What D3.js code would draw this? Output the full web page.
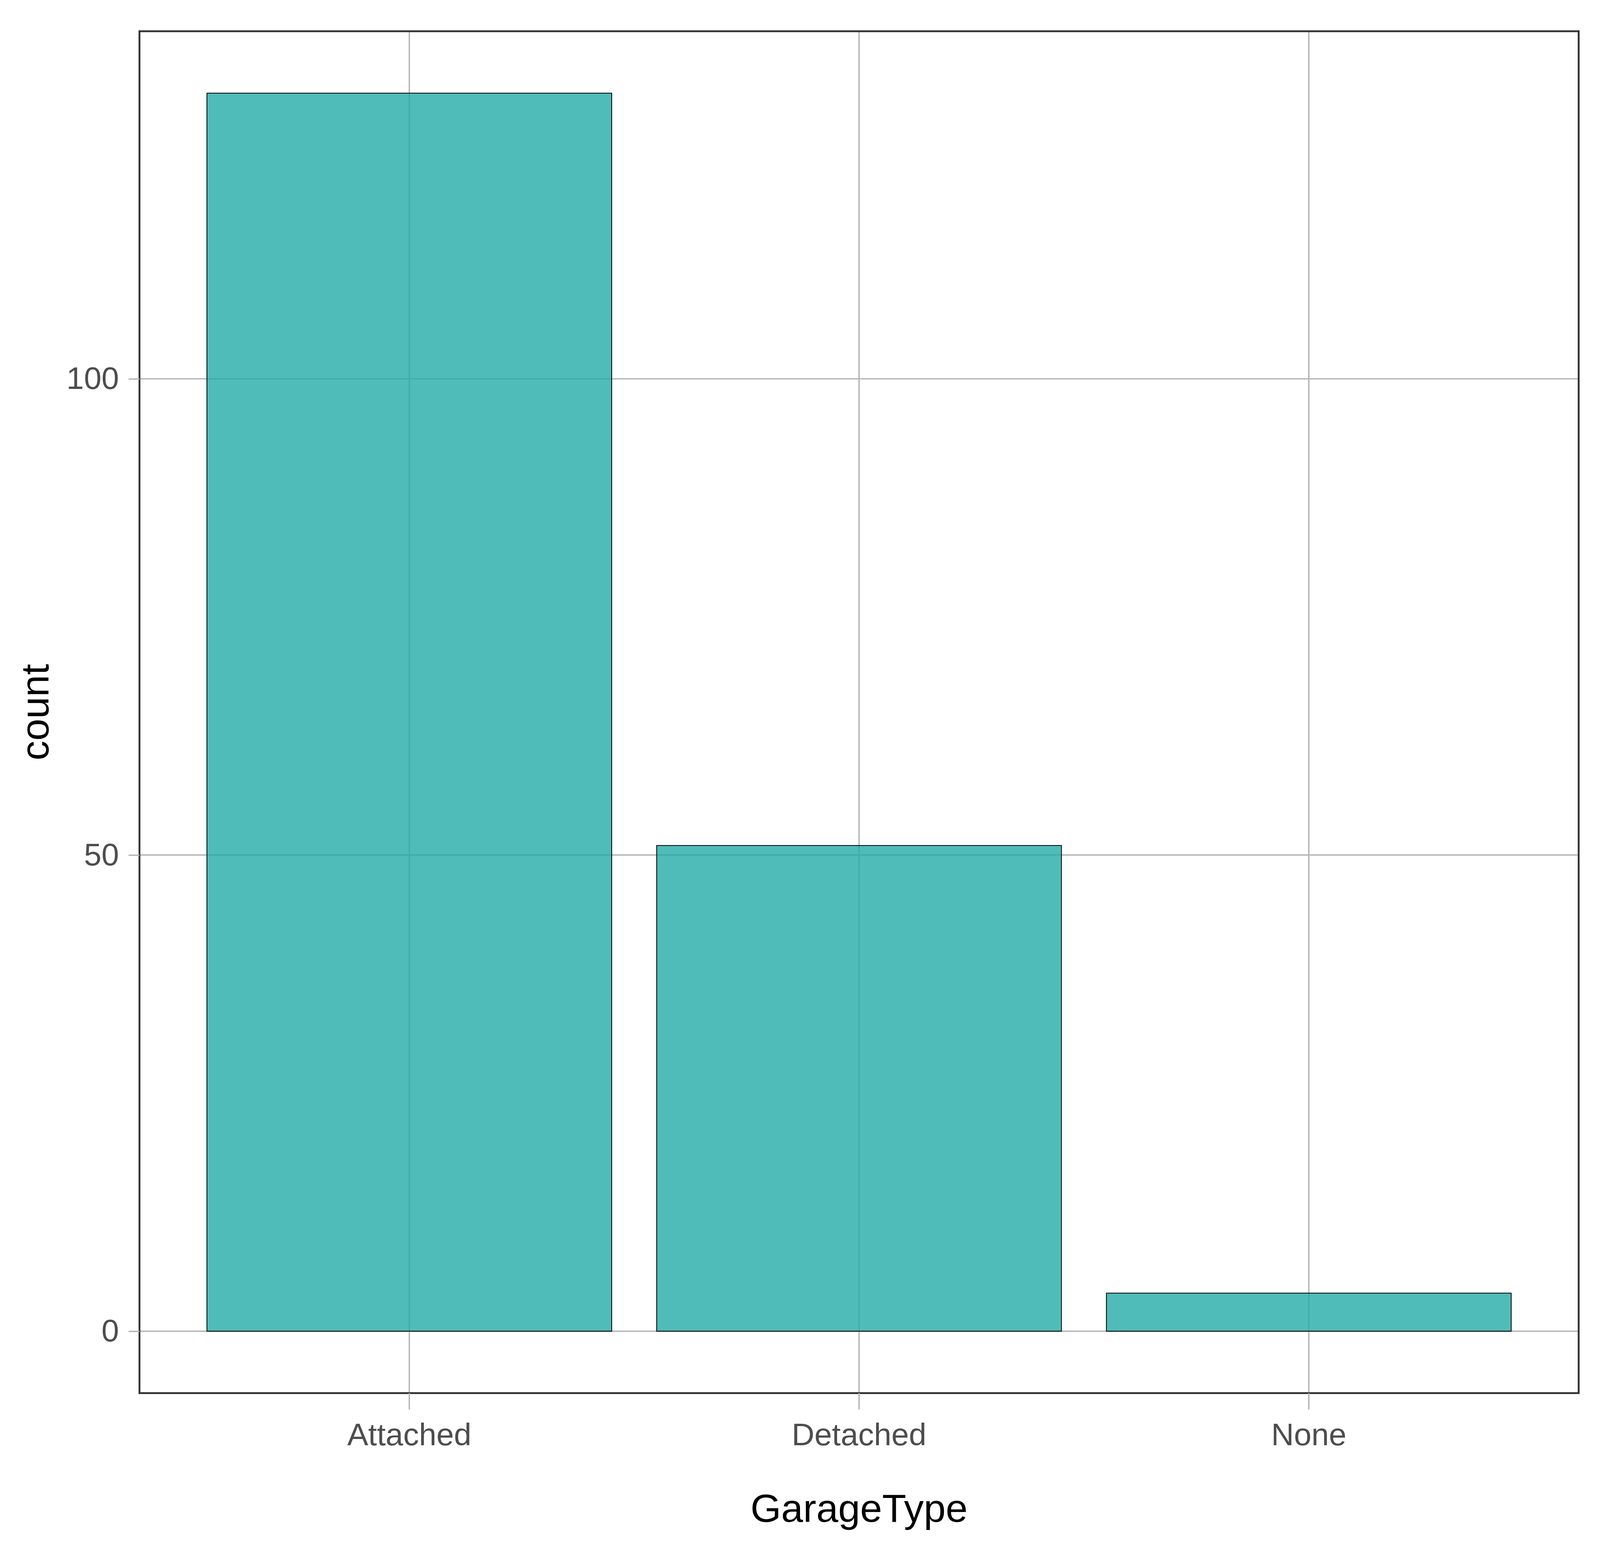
<!DOCTYPE html>
<html>
<head>
<meta charset="utf-8">
<script src="https://cdn.jsdelivr.net/npm/d3@7"></script>
<style>
    html, body { margin: 0; padding: 0; width: 100%; height: 100%; overflow: hidden; background: #ffffff; }
    svg { display: block; }
    text { font-family: 'Liberation Sans', Arial, sans-serif; }
</style>
</head>
<body>
<div id="visualization-container"></div>
<script>
// Chart data
const garageTypes = ['Attached', 'Detached', 'None'];
const counts = [130, 51, 4];
const yTicks = [0, 50, 100];
const xTitle = 'GarageType';
const yTitle = 'count';

// Function to draw the bar chart, laid out on a 6000x4000 design and
// scaled to whatever window it gets
function drawChart() {
    const width = window.innerWidth || 6000;
    const height = window.innerHeight || 4000;
    const sx = width / 6000;
    const sy = height / 4000;
    const s = Math.min(sx, sy);

    const svg = d3.select('#visualization-container')
        .append('svg')
        .attr('width', width)
        .attr('height', height);

    svg.append('rect')
        .attr('width', width)
        .attr('height', height)
        .attr('fill', '#ffffff');

    // Panel box
    const panel = { left: 523 * sx, right: 5920 * sx, top: 80 * sy, bottom: 3567.5 * sy };

    const x = d3.scaleBand()
        .domain(garageTypes)
        .range([panel.left, panel.right])
        .paddingInner(0.1)
        .paddingOuter(0.15);

    // ggplot-style 5% expansion around 0..max
    const maxCount = d3.max(counts);
    const pad = maxCount * 0.05;
    const y = d3.scaleLinear()
        .domain([-pad, maxCount + pad])
        .range([panel.bottom, panel.top]);

    const data = garageTypes.map((g, i) => ({ type: g, count: counts[i] }));

    // Grid lines
    const grid = svg.append('g');
    grid.selectAll('.hgrid')
        .data(yTicks)
        .enter()
        .append('line')
        .attr('x1', panel.left)
        .attr('x2', panel.right)
        .attr('y1', d => y(d))
        .attr('y2', d => y(d))
        .attr('stroke', '#b3b3b3')
        .attr('stroke-width', 5 * s);

    grid.selectAll('.vgrid')
        .data(garageTypes)
        .enter()
        .append('line')
        .attr('x1', d => x(d) + x.bandwidth() / 2)
        .attr('x2', d => x(d) + x.bandwidth() / 2)
        .attr('y1', panel.top)
        .attr('y2', panel.bottom)
        .attr('stroke', '#b3b3b3')
        .attr('stroke-width', 5 * s);

    // Bars (translucent, so the grid shows through)
    svg.append('g')
        .selectAll('rect')
        .data(data)
        .enter()
        .append('rect')
        .attr('x', d => x(d.type))
        .attr('width', x.bandwidth())
        .attr('y', d => y(d.count))
        .attr('height', d => y(0) - y(d.count))
        .attr('fill', 'rgba(32, 170, 166, 0.79)')
        .attr('stroke', '#000000')
        .attr('stroke-width', 3 * s);

    // Panel border
    svg.append('rect')
        .attr('x', panel.left)
        .attr('y', panel.top)
        .attr('width', panel.right - panel.left)
        .attr('height', panel.bottom - panel.top)
        .attr('fill', 'none')
        .attr('stroke', '#333333')
        .attr('stroke-width', 7 * s);

    // Axes
    const xAxis = d3.axisBottom(x).tickSize(42 * sy).tickPadding(34 * sy);
    const gx = svg.append('g')
        .attr('transform', `translate(0, ${panel.bottom})`)
        .call(xAxis);

    const yAxis = d3.axisLeft(y).tickValues(yTicks).tickSize(41 * sx).tickPadding(36 * sx);
    const gy = svg.append('g')
        .attr('transform', `translate(${panel.left}, 0)`)
        .call(yAxis);

    [gx, gy].forEach(g => {
        g.select('.domain').remove();
        g.selectAll('.tick line')
            .attr('stroke', '#b3b3b3')
            .attr('stroke-width', 5 * s);
        g.selectAll('.tick text')
            .attr('fill', '#4d4d4d')
            .style('font-size', (118 * s) + 'px')
            .style('font-family', "'Liberation Sans', Arial, sans-serif");
    });

    // Axis titles
    svg.append('text')
        .attr('x', (panel.left + panel.right) / 2)
        .attr('y', 3897 * sy)
        .attr('text-anchor', 'middle')
        .attr('fill', '#000000')
        .style('font-size', (148 * s) + 'px')
        .text(xTitle);

    svg.append('text')
        .attr('transform', `translate(${182 * sx}, ${(panel.top + panel.bottom) / 2}) rotate(-90)`)
        .attr('text-anchor', 'middle')
        .attr('fill', '#000000')
        .style('font-size', (148 * s) + 'px')
        .text(yTitle);
}

drawChart();
</script>
</body>
</html>
